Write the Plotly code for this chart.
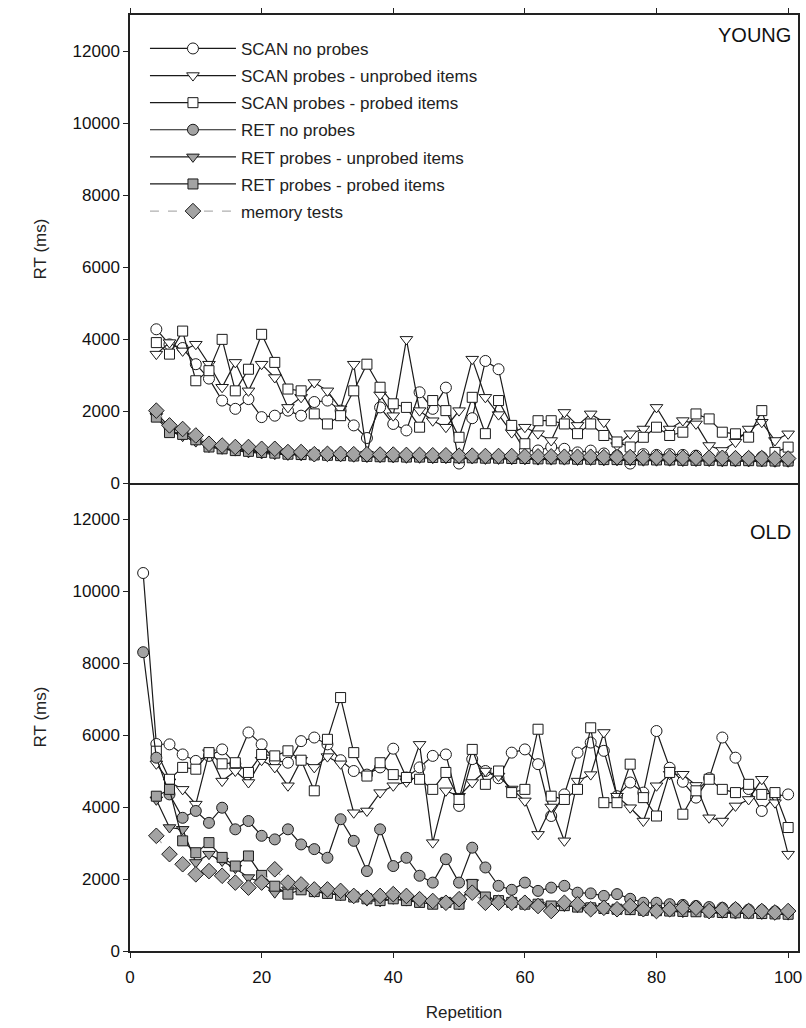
import plotly.graph_objects as go
from plotly.subplots import make_subplots

# ---------------- data ----------------
young_reps = list(range(4, 101, 2))   # 49 points
old_reps = list(range(2, 101, 2))     # 50 points

series_names = [
    "SCAN no probes",
    "SCAN probes - unprobed items",
    "SCAN probes - probed items",
    "RET no probes",
    "RET probes - unprobed items",
    "RET probes - probed items",
    "memory tests",
]

young_scan_no = [4270, 3850, 3750, 3300, 2900, 2290, 2060, 2330, 1830, 1870,
                 2010, 1870, 2250, 2290, 2010, 1600, 1250, 2100, 1640, 1460,
                 2520, 2060, 2650, 540, 1800, 3390, 3160, 1500, 900, 904,
                 1000, 950, 850, 900, 820, 760, 540, 800, 780, 800,
                 780, 760, 700, 760, 680, 700, 720, 680, 640]
young_scan_unprobed = [3580, 3900, 3670, 3855, 3300, 2660, 3350, 2560, 3300, 2930,
                       2100, 2380, 2790, 2560, 2060, 3300, 800, 2450, 1870, 3990,
                       2010, 1730, 1550, 2010, 3440, 2380, 1900, 1400, 1550, 1370,
                       1180, 1960, 1600, 1920, 1690, 1040, 1370, 1500, 2100, 1500,
                       1734, 1642, 1042, 904, 1135, 1500, 1688, 1181, 1366]
young_scan_probed = [3900, 3580, 4220, 2840, 3120, 3990, 2560, 3160, 4130, 3350,
                     2610, 2560, 1920, 1640, 1870, 2560, 3300, 2660, 2200, 2100,
                     1550, 2290, 2010, 1270, 2380, 1370, 2290, 1600, 1090, 1730,
                     1730, 1640, 1370, 1640, 1320, 1140, 1000, 1270, 1550, 1320,
                     1411, 1918, 1780, 1411, 1366, 1273, 2010, 850, 996]
young_ret_no = [1950, 1550, 1400, 1250, 1050, 1000, 950, 900, 880, 850,
                830, 800, 800, 780, 780, 770, 760, 750, 750, 740,
                740, 730, 730, 720, 720, 710, 710, 700, 700, 690,
                690, 690, 680, 680, 670, 670, 660, 660, 660, 650,
                650, 650, 640, 640, 640, 630, 630, 620, 620]
young_ret_unprobed = [1850, 1500, 1300, 1150, 1000, 950, 900, 850, 820, 800,
                      780, 770, 760, 750, 740, 730, 720, 720, 710, 700,
                      700, 690, 690, 680, 680, 670, 670, 660, 660, 650,
                      650, 650, 640, 640, 630, 630, 630, 620, 620, 620,
                      610, 610, 610, 600, 600, 600, 600, 590, 590]
young_ret_probed = [1830, 1400, 1350, 1200, 1000, 950, 900, 880, 850, 830,
                    800, 790, 780, 770, 760, 750, 740, 730, 730, 720,
                    720, 710, 710, 700, 700, 690, 690, 680, 680, 670,
                    670, 670, 660, 660, 650, 650, 650, 640, 640, 640,
                    630, 630, 630, 620, 620, 620, 610, 610, 610]
young_memory = [2010, 1600, 1500, 1320, 1090, 1040, 1000, 1000, 950, 950,
                860, 860, 800, 810, 810, 800, 800, 790, 790, 780,
                780, 770, 770, 760, 760, 750, 750, 750, 740, 740,
                740, 730, 730, 730, 720, 720, 720, 710, 710, 710,
                700, 700, 700, 700, 690, 690, 690, 680, 680]

old_scan_no = [10500, 5750, 5740, 5460, 5280, 5420, 5600, 5200, 6070, 5740,
               5300, 5230, 5830, 5930, 5740, 5300, 5000, 4900, 5100, 5620,
               4820, 5100, 5420, 5460, 4030, 5330, 5000, 4800, 5510, 5600,
               5190, 3750, 4350, 5510, 5790, 5560, 4300, 4680, 4400, 6110,
               5090, 4700, 4260, 4800, 5930, 5370, 4500, 3890, 4300, 4350]
old_scan_unprobed = [None, 5200, 4700, 4490, 4080, 5510, 4720, 5000, 4680, 5300,
                     5100, 4590, 5300, 5100, 5400, 5200, 3840, 3890, 4400, 4590,
                     4700, 5740, 3010, 4450, 4300, 4680, 5000, 4860, 4500, 4170,
                     3240, 4000, 3060, 4720, 4900, 6070, 4300, 3980, 3610, 4590,
                     4910, 4910, 4600, 3700, 3610, 4030, 4210, 4770, 4120, 2690]
old_scan_probed = [None, 5550, 4770, 5100, 5050, 5510, 5200, 5230, 4960, 5460,
                   5420, 5560, 5300, 4450, 5880, 7040, 5510, 4860, 5230, 4900,
                   4820, 4770, 4490, 4960, 4210, 5600, 4630, 5000, 4400, 4490,
                   6160, 4300, 4210, 4490, 6200, 4120, 4120, 5190, 4260, 3750,
                   4960, 3800, 4450, 4770, 4490, 4400, 4630, 4350, 4400, 3430]
old_ret_no = [8300, 5370, 4350, 3700, 3890, 3560, 3980, 3380, 3610, 3200,
              3100, 3380, 2960, 2830, 2590, 3660, 3060, 2220, 3380, 2360,
              2590, 2090, 1900, 2550, 1900, 2870, 2320, 1810, 1700, 1900,
              1670, 1760, 1810, 1620, 1600, 1530, 1580, 1450, 1340, 1340,
              1300, 1280, 1250, 1220, 1200, 1180, 1150, 1130, 1100, 1080]
old_ret_unprobed = [None, 4200, 3430, 3380, 2460, 2690, 2500, 2300, 2040, 1900,
                    1620, 1700, 1750, 1650, 1600, 1550, 1500, 1400, 1380, 1450,
                    1400, 1420, 1330, 1380, 1300, 1900, 1400, 1350, 1320, 1300,
                    1280, 1250, 1250, 1220, 1200, 1180, 1170, 1150, 1120, 1130,
                    1100, 1080, 1100, 1050, 1060, 1040, 1050, 1030, 1020, 1010]
old_ret_probed = [None, 4300, 4490, 3060, 2730, 3010, 2600, 2360, 2640, 2100,
                  1800, 1580, 1700, 1650, 1600, 1550, 1500, 1450, 1400, 1450,
                  1400, 1350, 1300, 1350, 1300, 1850, 1500, 1400, 1350, 1300,
                  1300, 1250, 1260, 1220, 1200, 1180, 1160, 1150, 1130, 1120,
                  1110, 1100, 1090, 1080, 1070, 1060, 1050, 1040, 1030, 1020]
old_memory = [None, 3200, 2690, 2410, 2130, 2220, 2090, 1900, 1760, 1900,
              2270, 1900, 1850, 1710, 1710, 1670, 1530, 1480, 1530, 1580,
              1530, 1440, 1390, 1340, 1440, 1620, 1340, 1340, 1340, 1340,
              1250, 1110, 1340, 1300, 1160, 1200, 1160, 1250, 1160, 1110,
              1160, 1200, 1200, 1110, 1150, 1160, 1110, 1110, 1070, 1110]

y_ticks = [0, 2000, 4000, 6000, 8000, 10000, 12000]
x_ticks = [0, 20, 40, 60, 80, 100]

# ---------------- styles ----------------
INK = "#1a1a1a"
GRAY = "#a3a3a3"
styles = [
    dict(symbol="circle", fill="white", size=11, dash="solid", lc=INK),
    dict(symbol="triangle-down", fill="white", size=11, dash="solid", lc=INK),
    dict(symbol="square", fill="white", size=10, dash="solid", lc=INK),
    dict(symbol="circle", fill=GRAY, size=11, dash="solid", lc=INK),
    dict(symbol="triangle-down", fill=GRAY, size=11, dash="solid", lc=INK),
    dict(symbol="square", fill=GRAY, size=10, dash="solid", lc=INK),
    dict(symbol="diamond", fill=GRAY, size=12, dash="dash", lc="#b0b0b0"),
]

young = [young_scan_no, young_scan_unprobed, young_scan_probed,
         young_ret_no, young_ret_unprobed, young_ret_probed, young_memory]
old = [old_scan_no, old_scan_unprobed, old_scan_probed,
       old_ret_no, old_ret_unprobed, old_ret_probed, old_memory]

fig = make_subplots(rows=2, cols=1, shared_xaxes=True, vertical_spacing=0)

for i, name in enumerate(series_names):
    st = styles[i]
    for row, (xs, ys) in enumerate([(young_reps, young[i]), (old_reps, old[i])], start=1):
        fig.add_trace(go.Scatter(
            x=xs, y=ys, name=name, legendgroup=name, showlegend=(row == 1),
            mode="lines+markers",
            line=dict(color=st["lc"], width=1.2, dash=st["dash"]),
            marker=dict(symbol=st["symbol"], size=st["size"], color=st["fill"],
                        line=dict(color=INK, width=1)),
        ), row=row, col=1)

font_family = "Liberation Sans, Arial, sans-serif"
tick_font = dict(family=font_family, size=17, color="#111")
axis_common = dict(showline=True, linecolor="#222", linewidth=1.5, automargin=False,
                   showgrid=False, zeroline=False, ticks="outside", ticklen=5,
                   tickcolor="#222", tickwidth=1.2, tickfont=tick_font)

fig.update_xaxes(range=[0, 101.5], tickvals=x_ticks, **axis_common)
fig.update_xaxes(side="top", showticklabels=False, mirror=True, row=1, col=1)
fig.update_xaxes(mirror=False, row=2, col=1, ticklabelstandoff=5,
                 title=dict(text="Repetition", font=dict(family=font_family, size=17, color="#222"),
                            standoff=20))
fig.update_yaxes(range=[0, 13000], tickvals=y_ticks, ticktext=[str(v) for v in y_ticks],
                 mirror=True, **axis_common)
fig.update_yaxes(title=dict(text="RT (ms)", font=dict(family=font_family, size=17, color="#222"),
                            standoff=22))

fig.update_layout(
    width=806, height=1028,
    margin=dict(l=130, r=8, t=15, b=77, autoexpand=False),
    paper_bgcolor="white", plot_bgcolor="white",
    font=dict(family=font_family, size=17, color="#222"),
    legend=dict(x=0.0224, y=0.983, xanchor="left", yanchor="top",
                bgcolor="rgba(0,0,0,0)", traceorder="grouped", tracegroupgap=2,
                itemwidth=86, font=dict(family=font_family, size=17, color="#222")),
    annotations=[
        dict(text="YOUNG", xref="paper", yref="paper", x=0.9925, y=0.9786,
             xanchor="right", yanchor="middle", showarrow=False,
             font=dict(family=font_family, size=20, color="#111")),
        dict(text="OLD", xref="paper", yref="paper", x=0.9925, y=0.4476,
             xanchor="right", yanchor="middle", showarrow=False,
             font=dict(family=font_family, size=20, color="#111")),
    ],
)

# remove the default 8px page margin so the figure fills the window exactly
fig.write_html("out.html",
               config={"displayModeBar": False},
               post_script="document.body.style.margin='0';document.body.style.overflow='hidden';")
